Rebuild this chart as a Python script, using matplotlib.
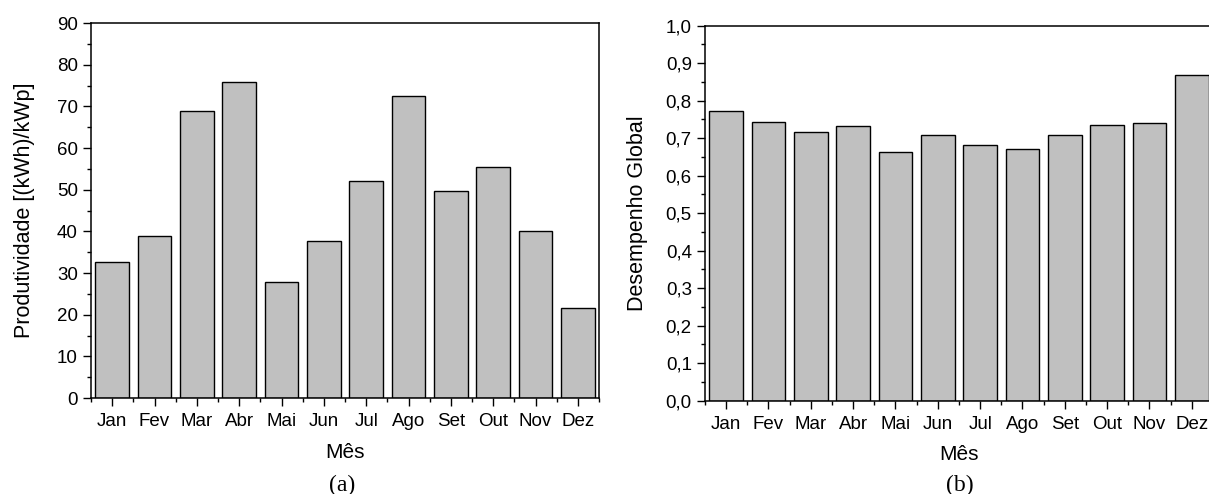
"""
plot.py

Produtividade e desempenho global mensais, lado a lado
"""

import matplotlib
matplotlib.use('Agg')
import matplotlib.pyplot as plt
from matplotlib.ticker import MultipleLocator, FixedLocator, FuncFormatter
import numpy as np

meses = ['Jan', 'Fev', 'Mar', 'Abr', 'Mai', 'Jun',
         'Jul', 'Ago', 'Set', 'Out', 'Nov', 'Dez']
produtividade = [32.6, 39.0, 68.9, 75.9, 27.8, 37.6,
                 52.0, 72.4, 49.6, 55.5, 40.2, 21.5]
desempenho = [0.773, 0.744, 0.716, 0.732, 0.664, 0.709,
              0.682, 0.670, 0.709, 0.736, 0.740, 0.869]

plt.rcParams['font.family'] = ['Liberation Sans', 'DejaVu Sans']


def style_axes(ax, n):
    """
    Origin-like look: ticks out, minor ticks between categories
    """
    ax.set_xlim(-0.5, n - 0.5)
    ax.set_xticks(np.arange(n))
    ax.set_xticklabels(meses)
    ax.xaxis.set_minor_locator(FixedLocator(np.arange(n + 1) - 0.5))
    ax.tick_params(axis='both', which='major', direction='out', length=6,
                   width=1, labelsize=13.5, color='black')
    ax.tick_params(axis='both', which='minor', direction='out', length=3,
                   width=1, color='black')
    ax.tick_params(axis='x', which='major', pad=5)
    for sp in ax.spines.values():
        sp.set_linewidth(1.1)


fig = plt.figure(figsize=(12.09, 4.94), dpi=100)

ax1 = fig.add_axes([0.0753, 0.1943, 0.4202, 0.7591])
x = np.arange(len(meses))
ax1.bar(x, produtividade, width=0.8, color='#c0c0c0', edgecolor='black',
        linewidth=1)
style_axes(ax1, len(meses))
ax1.set_ylim(0, 90)
ax1.yaxis.set_major_locator(MultipleLocator(10))
ax1.yaxis.set_minor_locator(MultipleLocator(5))
ax1.set_ylabel('Produtividade [(kWh)/kWp]', fontsize=15.5, labelpad=16)
ax1.set_xlabel('Mês', fontsize=15, labelpad=9)
fig.text(0.2827, 0.018, '(a)', ha='center', va='center', fontsize=17,
         family='Liberation Serif')

ax2 = fig.add_axes([0.5831, 0.1889, 0.4202, 0.7591])
ax2.bar(x, desempenho, width=0.8, color='#c0c0c0', edgecolor='black',
        linewidth=1)
style_axes(ax2, len(meses))
ax2.set_ylim(0, 1.0)
ax2.yaxis.set_major_locator(MultipleLocator(0.1))
ax2.yaxis.set_minor_locator(MultipleLocator(0.05))
ax2.yaxis.set_major_formatter(FuncFormatter(lambda v, p: '{:.1f}'.format(v).replace('.', ',')))
ax2.set_ylabel('Desempenho Global', fontsize=15.5, labelpad=13)
ax2.set_xlabel('Mês', fontsize=15, labelpad=9)
fig.text(0.7935, 0.018, '(b)', ha='center', va='center', fontsize=17,
         family='Liberation Serif')

fig.savefig('out.png', dpi=100)
